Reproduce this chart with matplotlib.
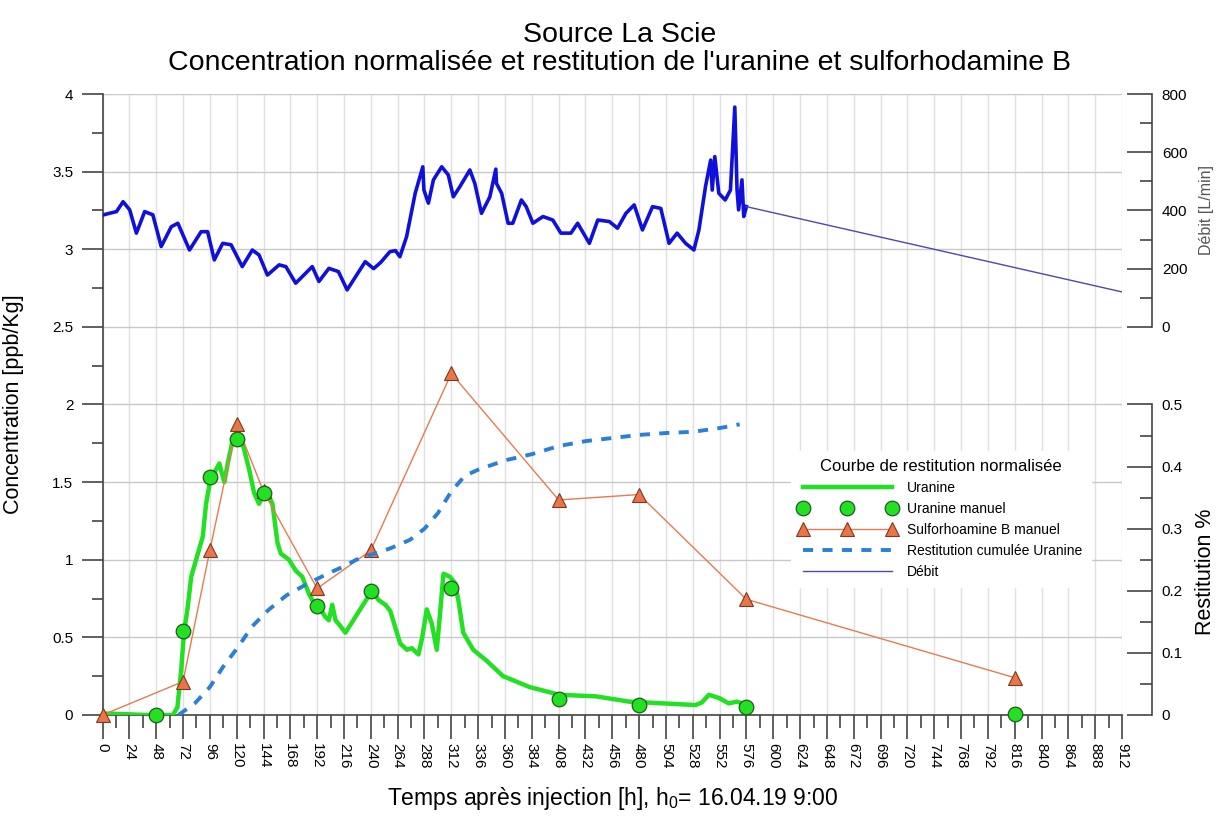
import matplotlib
matplotlib.use('Agg')
import matplotlib.pyplot as plt
from matplotlib.ticker import MultipleLocator, FormatStrFormatter
import numpy as np

plt.rcParams['font.family'] = ['Liberation Sans', 'DejaVu Sans']
plt.rcParams['mathtext.default'] = 'regular'

# --- data ---
# Uranine, continuous probe [ppb/Kg]
ura_t = [0, 20, 40, 63, 67, 70.5, 72, 73.3, 76.3, 79.3, 83.7, 89.7, 92.6, 97, 101.5, 104.5,
         107, 109, 112, 116.4, 120.9, 125.3, 131.2, 135.6, 140, 143.1, 147.6, 152, 156.5,
         159.4, 166.8, 172.8, 178.7, 184.7, 190.6, 195, 199.5, 202.5, 205.5, 208.4, 212,
         217.3, 241, 247, 253, 257.4, 266.3, 272.3, 276.7, 282.6, 286, 290, 294.5, 299, 302,
         305, 310.8, 315.3, 318.3, 322.7, 331.6, 343.5, 358.3, 382, 408.8, 441.5, 471,
         500.8, 530.5, 536, 542.4, 551.3, 560.2, 567.6, 576.5]
ura_c = [0.01, 0.005, 0.0, 0.0, 0.05, 0.3, 0.45, 0.55, 0.70, 0.89, 1.0, 1.15, 1.36, 1.535,
         1.58, 1.62, 1.55, 1.50, 1.62, 1.77, 1.79, 1.75, 1.58, 1.43, 1.36, 1.41, 1.43, 1.36,
         1.11, 1.04, 1.0, 0.93, 0.89, 0.78, 0.70, 0.68, 0.63, 0.61, 0.71, 0.61, 0.58, 0.53,
         0.80, 0.74, 0.71, 0.67, 0.46, 0.42, 0.43, 0.39, 0.50, 0.68, 0.59, 0.42, 0.66, 0.91,
         0.89, 0.85, 0.74, 0.53, 0.42, 0.35, 0.25, 0.18, 0.13, 0.12, 0.086, 0.075, 0.064,
         0.08, 0.13, 0.11, 0.075, 0.086, 0.064]

# Uranine, manual samples
ura_man_t = [48, 72, 96, 120, 144, 192, 240, 312, 408, 480, 576, 816]
ura_man_c = [0.0, 0.54, 1.535, 1.78, 1.43, 0.70, 0.80, 0.815, 0.10, 0.065, 0.05, 0.005]

# Sulforhodamine B, manual samples
sulfo_t = [0, 72, 96, 120, 144, 192, 240, 312, 408, 480, 576, 816]
sulfo_c = [0.0, 0.215, 1.06, 1.875, 1.44, 0.815, 1.06, 2.2, 1.385, 1.42, 0.745, 0.24]

# cumulative restitution of uranine [%]
rest_t = [68, 82.7, 96, 108, 121.5, 133.5, 148.3, 164.8, 184, 202, 215.4, 227, 240, 257,
          275, 288, 300, 312, 324, 336, 348, 360, 384, 408, 432, 456, 480, 504, 528, 552, 570]
rest_p = [0, 0.019, 0.045, 0.078, 0.11, 0.142, 0.169, 0.193, 0.212, 0.228, 0.239, 0.25,
          0.258, 0.268, 0.282, 0.30, 0.325, 0.36, 0.385, 0.395, 0.4025, 0.41, 0.42, 0.433,
          0.441, 0.446, 0.451, 0.454, 0.456, 0.462, 0.468]

# discharge [L/min]
debit_t = [0, 6, 12.5, 18.4, 24.3, 30.3, 37.7, 45, 52.5, 61.5, 67.4, 77.8, 88.2, 94, 100,
           107.5, 115, 125, 134, 140, 147.5, 158, 164, 172.8, 187.6, 193.6, 202.5, 211,
           218.8, 235, 242.5, 249, 257, 262, 266, 272, 279.7, 286.5, 287.5, 291.5, 296, 303.4,
           309.3, 313.8, 319.7, 328.6, 333, 339, 346.5, 351.8, 352.4, 357, 362.8, 367, 374.7,
           379, 385, 394, 402.8, 410, 419, 425, 435.5, 443, 453.3, 460.7, 468.2, 475.6, 483,
           492, 499.4, 506.8, 514, 521.6, 529, 533.5, 539.4, 544, 545.4, 547.7, 551.3, 557,
           561.7, 565.6, 567.6, 569, 572, 573.6, 576]
debit_q = [384, 390, 396, 430, 402, 322, 396, 385, 276, 344, 356, 264, 327, 327, 230, 287,
           282, 207, 264, 247, 178, 213, 207, 150, 207, 156, 201, 190, 127, 224, 200, 222,
           258, 262, 241, 310, 459, 550, 470, 425, 505, 550, 522, 447, 482, 539, 493, 390,
           447, 542, 493, 459, 356, 356, 436, 413, 356, 379, 367, 322, 322, 356, 287, 367,
           362, 339, 390, 419, 333, 413, 407, 287, 322, 287, 264, 333, 482, 573, 470, 585,
           459, 436, 470, 755, 470, 402, 505, 379, 413]
debit_end_t = [912]
debit_end_q = [120]

GREEN = '#22e022'
ORANGE = '#e87a50'
DASH = '#2b7fd6'
BLUE = '#1010dc'
TICK = '#444444'

fig = plt.figure(figsize=(12.22, 8.16), dpi=100)
ax = fig.add_axes([0.0839, 0.1238, 0.8343, 0.7610])

ax.set_xlim(0, 912)
ax.set_ylim(0, 4)
ax.xaxis.set_major_locator(MultipleLocator(24))
ax.xaxis.set_minor_locator(MultipleLocator(12))
ax.yaxis.set_major_locator(MultipleLocator(0.5))
ax.yaxis.set_minor_locator(MultipleLocator(0.25))
ax.yaxis.set_major_formatter(FormatStrFormatter('%g'))
ax.grid(True, axis='x', which='major', color='#e0e0e0', lw=1)
ax.grid(True, axis='y', which='major', color='#c8c8c8', lw=1)
ax.set_axisbelow(True)
for s in ['top', 'right']:
    ax.spines[s].set_visible(False)
for s in ['left', 'bottom']:
    ax.spines[s].set_color(TICK)
    ax.spines[s].set_linewidth(1.2)
ax.tick_params(axis='x', which='major', length=17, width=1.2, color=TICK,
               labelrotation=270, labelsize=11, pad=3)
ax.tick_params(axis='x', which='minor', length=9, width=1.2, color=TICK)
ax.tick_params(axis='y', which='major', length=15, width=1.2, color=TICK, labelsize=11, pad=6)
ax.tick_params(axis='y', which='minor', length=8, width=1.2, color=TICK)

l_ura, = ax.plot(ura_t, ura_c, color=GREEN, lw=3.2, label='Uranine', zorder=3)
l_sulfo, = ax.plot(sulfo_t, sulfo_c, color=ORANGE, lw=1, marker='^', ms=10,
                   mfc='#ec7449', mec='#7a3a20', mew=0.8, label='Sulforhoamine B manuel',
                   zorder=4, clip_on=False)
l_man, = ax.plot(ura_man_t, ura_man_c, ls='none', marker='o', ms=10.5, mfc=GREEN,
                 mec='#1f5a1f', mew=0.9, label='Uranine manuel', zorder=5, clip_on=False)

ax.set_ylabel('Concentration [ppb/Kg]', fontsize=15.5)
ax.yaxis.set_label_coords(-0.077, 0.5)
ax.set_xlabel(r'Temps après injection [h], h$_0$= 16.04.19 9:00', fontsize=16.5)
ax.xaxis.set_label_coords(0.5, -0.113)

# restitution axis (lower right)
ax_r = ax.twinx()
ax_r.set_ylim(0, 1.0)
l_rest, = ax_r.plot(rest_t, rest_p, color=DASH, lw=2.8, dashes=(2.6, 2.4),
                    label='Restitution cumulée Uranine')

# discharge axis (upper right)
ax_q = ax.twinx()
ax_q.set_ylim(800 - 800 * 4 / 1.5, 800)
ax_q.plot(debit_t, debit_q, color=BLUE, lw=2.6)
l_deb, = ax_q.plot(debit_t[-1:] + debit_end_t, debit_q[-1:] + debit_end_q,
                   color='#4848b8', lw=1, label='Débit')

for a, top, step, minor in [(ax_r, 0.5, 0.1, 0.05), (ax_q, 800, 200, 100)]:
    for s in ['top', 'left', 'bottom']:
        a.spines[s].set_visible(False)
    a.spines['right'].set_position(('outward', 21.6))
    a.spines['right'].set_bounds(0, top)
    a.spines['right'].set_color(TICK)
    a.spines['right'].set_linewidth(1.2)
    a.set_yticks(np.arange(0, top + step / 2, step))
    a.set_yticks(np.arange(0, top + minor / 2, minor), minor=True)
    a.yaxis.set_major_formatter(FormatStrFormatter('%g'))
    a.tick_params(axis='y', which='major', direction='in', length=18, width=1.2,
                  color=TICK, labelsize=11, pad=7)
    a.tick_params(axis='y', which='minor', direction='in', length=9, width=1.2, color=TICK)

ax_r.set_ylabel('Restitution %', fontsize=15.5)
ax_r.yaxis.set_label_coords(1.072, 0.23)
ax_q.set_ylabel('Débit [L/min]', fontsize=11.5, color='#555555')
ax_q.yaxis.set_label_coords(1.075, 0.8125)

leg = ax_q.legend([l_ura, l_man, l_sulfo, l_rest, l_deb],
                  ['Uranine', 'Uranine manuel', 'Sulforhoamine B manuel',
                   'Restitution cumulée Uranine', 'Débit'],
                  title='Courbe de restitution normalisée', title_fontsize=12,
                  fontsize=10, numpoints=3, handlelength=7, handletextpad=0.8,
                  labelspacing=0.5, loc='upper left', bbox_to_anchor=(0.668, 0.437),
                  frameon=True, framealpha=1, edgecolor='white', fancybox=False,
                  borderpad=0.6)

fig.text(0.507, 0.957, 'Source La Scie', ha='center', va='center', fontsize=20.5)
fig.text(0.507, 0.923, "Concentration normalisée et restitution de l'uranine et sulforhodamine B",
         ha='center', va='center', fontsize=20.5)

fig.savefig('out.png', dpi=100)
